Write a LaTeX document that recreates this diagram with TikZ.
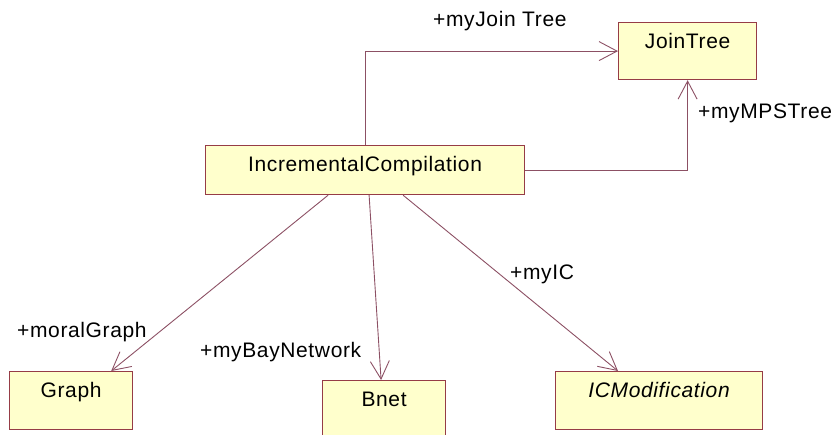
\documentclass[tikz,border=0pt]{standalone}
\usepackage{fontspec}
\usepackage{tikz}
\usetikzlibrary{arrows.meta}
\newfontfamily\umlfamily[LetterSpace=3]{Liberation Sans}
\newcommand{\umlfont}{\umlfamily\fontsize{21}{25}\selectfont}
\definecolor{boxfill}{RGB}{255,255,204}
\definecolor{boxline}{RGB}{150,60,70}
\definecolor{assocline}{RGB}{140,80,100}
\tikzset{
  classbox/.style  = {draw=boxline,fill=boxfill,line width=1.2pt,anchor=north west,
                      font=\umlfont,inner xsep=0pt,inner ysep=11pt,
                      text height=15pt,text depth=#1},
  assoc/.style     = {draw=assocline,line width=0.9pt,
                      -{Straight Barb[length=18pt,width=19pt]}},
  rolelabel/.style = {font=\umlfont,anchor=base west,inner sep=0pt}
}
\begin{document}
\begin{tikzpicture}[x=1pt,y=-1pt]
  \useasboundingbox (0,0) rectangle (833,434);
  % classes
  \node[classbox=20pt,minimum width=138pt] (jt)    at (618,22)  {JoinTree};
  \node[classbox=12pt,minimum width=319pt] (ic)    at (205,145) {IncrementalCompilation};
  \node[classbox=21pt,minimum width=123pt] (graph) at (9,371)   {Graph};
  \node[classbox=25pt,minimum width=123pt] (bnet)  at (322,380) {Bnet};
  \node[classbox=21pt,minimum width=207pt] (icm)   at (555,371) {\itshape ICModification};
  % associations
  \draw[assoc] (ic.north) |- (jt.west);
  \draw[assoc] (ic.east) -| (jt.south);
  \draw[assoc] ([xshift=-37pt]ic.south) -- ([xshift=-22pt]graph.north east);
  \draw[assoc] ([xshift=4pt]ic.south) -- ([xshift=-3pt]bnet.north);
  \draw[assoc] ([xshift=38pt]ic.south) -- ([xshift=63pt]icm.north west);
  % role names
  \node[rolelabel] (rjt)    at (433,26)  {+myJoin Tree};
  \node[rolelabel] (rmps)   at (698,118) {+myMPSTree};
  \node[rolelabel] (ric)    at (510,279) {+myIC};
  \node[rolelabel] (rgraph) at (17,337)  {+moralGraph};
  \node[rolelabel] (rbnet)  at (200,357) {+myBayNetwork};
\end{tikzpicture}
\end{document}
